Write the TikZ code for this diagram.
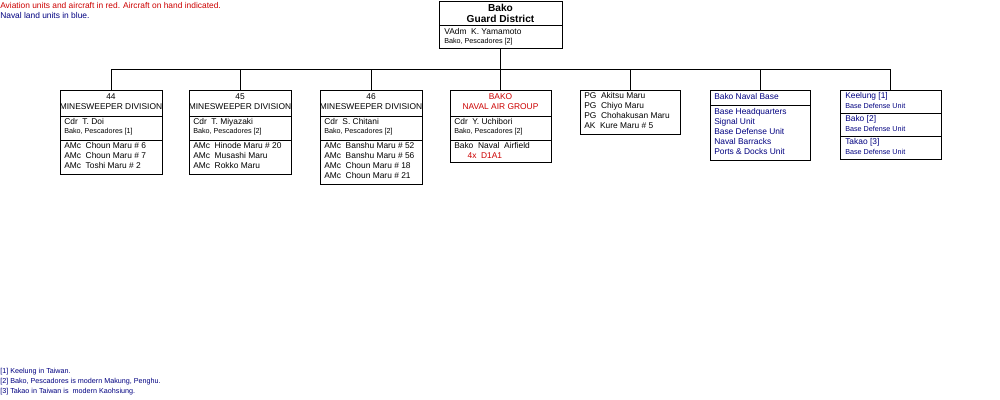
\documentclass[tikz,border=0pt]{standalone}
\usepackage{fontspec}
\setmainfont{Liberation Sans}
\definecolor{avred}{RGB}{204,0,0}
\definecolor{navy}{RGB}{0,0,128}
\newcommand{\bx}[5]{\node[box,minimum width={(#4-#2)*0.75pt},minimum height={(#5-#3)*0.75pt}] (#1) at (#2,#3) {};}
\newcommand{\fa}{\fontsize{6.3}{7.5}\selectfont}
\newcommand{\fb}{\fontsize{5.4}{7.5}\selectfont}
\begin{document}
\begin{tikzpicture}[x=0.75pt,y=-0.75pt,
  box/.style={draw,line width=0.75pt,anchor=north west,inner sep=0pt,outer sep=0pt},
  t/.style={anchor=north west,inner sep=0pt,align=left,font=\fa},
  tc/.style={anchor=north,inner sep=0pt,align=center,font=\fa},
  ln/.style={line width=0.75pt}]
\useasboundingbox (0,0) rectangle (1000,400);
% top
\bx{top}{439}{1}{562}{48}
\draw[ln] (439,25) -- (562,25);
\node[tc,font=\bfseries\fontsize{7.6}{8.2}\selectfont] (topt) at (500.5,4) {Bako\\Guard District};
\node[t] (topc) at (444,28) {VAdm\ \ K. Yamamoto\\[-1pt]{\fb Bako, Pescadores [2]}};
% boxes
\bx{b1}{60}{90}{162}{174}
\bx{b2}{189}{90}{291}{174}
\bx{b3}{320}{90}{422}{184}
\bx{b4}{450}{90}{551}{162}
\bx{b5}{580}{90}{680}{134}
\bx{b6}{710}{90}{810}{160}
\bx{b7}{840}{90}{941}{159}
\foreach \a/\b in {60/162,189/291,320/422,450/551}{
  \draw[ln] (\a,116) -- (\b,116); \draw[ln] (\a,140) -- (\b,140);}
\draw[ln] (710,105) -- (810,105);
\draw[ln] (840,113) -- (941,113); \draw[ln] (840,136) -- (941,136);
% connectors
\coordinate (busL) at (111,69);
\coordinate (busR) at (890.5,69);
\draw[ln] (busL) -- (busR);
\draw[ln] (top.south) -- (b4.north);
\foreach \n in {b1,b2,b3,b5,b6,b7} \draw[ln] (\n.north) -- (\n.north |- busL);
% box 1-3
\node[tc] (h1) at (111,93) {44\\MINESWEEPER DIVISION};
\node[t] (c1) at (64,118) {Cdr\ \ T. Doi\\[-1pt]{\fb Bako, Pescadores [1]}};
\node[t] (s1) at (64,142) {AMc\ \ Choun Maru \# 6\\AMc\ \ Choun Maru \# 7\\AMc\ \ Toshi Maru \# 2};
\node[tc] (h2) at (240,93) {45\\MINESWEEPER DIVISION};
\node[t] (c2) at (193,118) {Cdr\ \ T. Miyazaki\\[-1pt]{\fb Bako, Pescadores [2]}};
\node[t] (s2) at (193,142) {AMc\ \ Hinode Maru \# 20\\AMc\ \ Musashi Maru\\AMc\ \ Rokko Maru};
\node[tc] (h3) at (371,93) {46\\MINESWEEPER DIVISION};
\node[t] (c3) at (324,118) {Cdr\ \ S. Chitani\\[-1pt]{\fb Bako, Pescadores [2]}};
\node[t] (s3) at (324,142) {AMc\ \ Banshu Maru \# 52\\AMc\ \ Banshu Maru \# 56\\AMc\ \ Choun Maru \# 18\\AMc\ \ Choun Maru \# 21};
% box 4
\node[tc,text=avred] (h4) at (500.5,93) {BAKO\\NAVAL AIR GROUP};
\node[t] (c4) at (454,118) {Cdr\ \ Y. Uchibori\\[-1pt]{\fb Bako, Pescadores [2]}};
\node[t] (s4) at (454,142) {Bako\ \ Naval\ \ Airfield\\\hspace*{10pt}\textcolor{avred}{4x\ \ D1A1}};
% box 5
\node[t] (s5) at (584,92) {PG\ \ Akitsu Maru\\PG\ \ Chiyo Maru\\PG\ \ Chohakusan Maru\\AK\ \ Kure Maru \# 5};
% box 6
\node[t,text=navy] (h6) at (714,93) {Bako Naval Base};
\node[t,text=navy] (s6) at (714,108) {Base Headquarters\\Signal Unit\\Base Defense Unit\\Naval Barracks\\Ports \& Docks Unit};
% box 7
\node[t,text=navy,font=\fb] (k1) at (845,92) {{\fa Keelung [1]}\\{}Base Defense Unit};
\node[t,text=navy,font=\fb] (k2) at (845,115) {{\fa Bako [2]}\\{}Base Defense Unit};
\node[t,text=navy,font=\fb] (k3) at (845,138) {{\fa Takao [3]}\\{}Base Defense Unit};
% legends
\node[t,text=avred] (lg1) at (0,2) {Aviation units and aircraft in red. Aircraft on hand indicated.};
\node[t,text=navy] (lg2) at (0,12) {Naval land units in blue.};
\node[t,text=navy,font=\fb] (fn) at (0,368) {[1] Keelung in Taiwan.\\{}[2] Bako, Pescadores is modern Makung, Penghu.\\{}[3] Takao in Taiwan is\ \ modern Kaohsiung.};
\end{tikzpicture}
\end{document}
